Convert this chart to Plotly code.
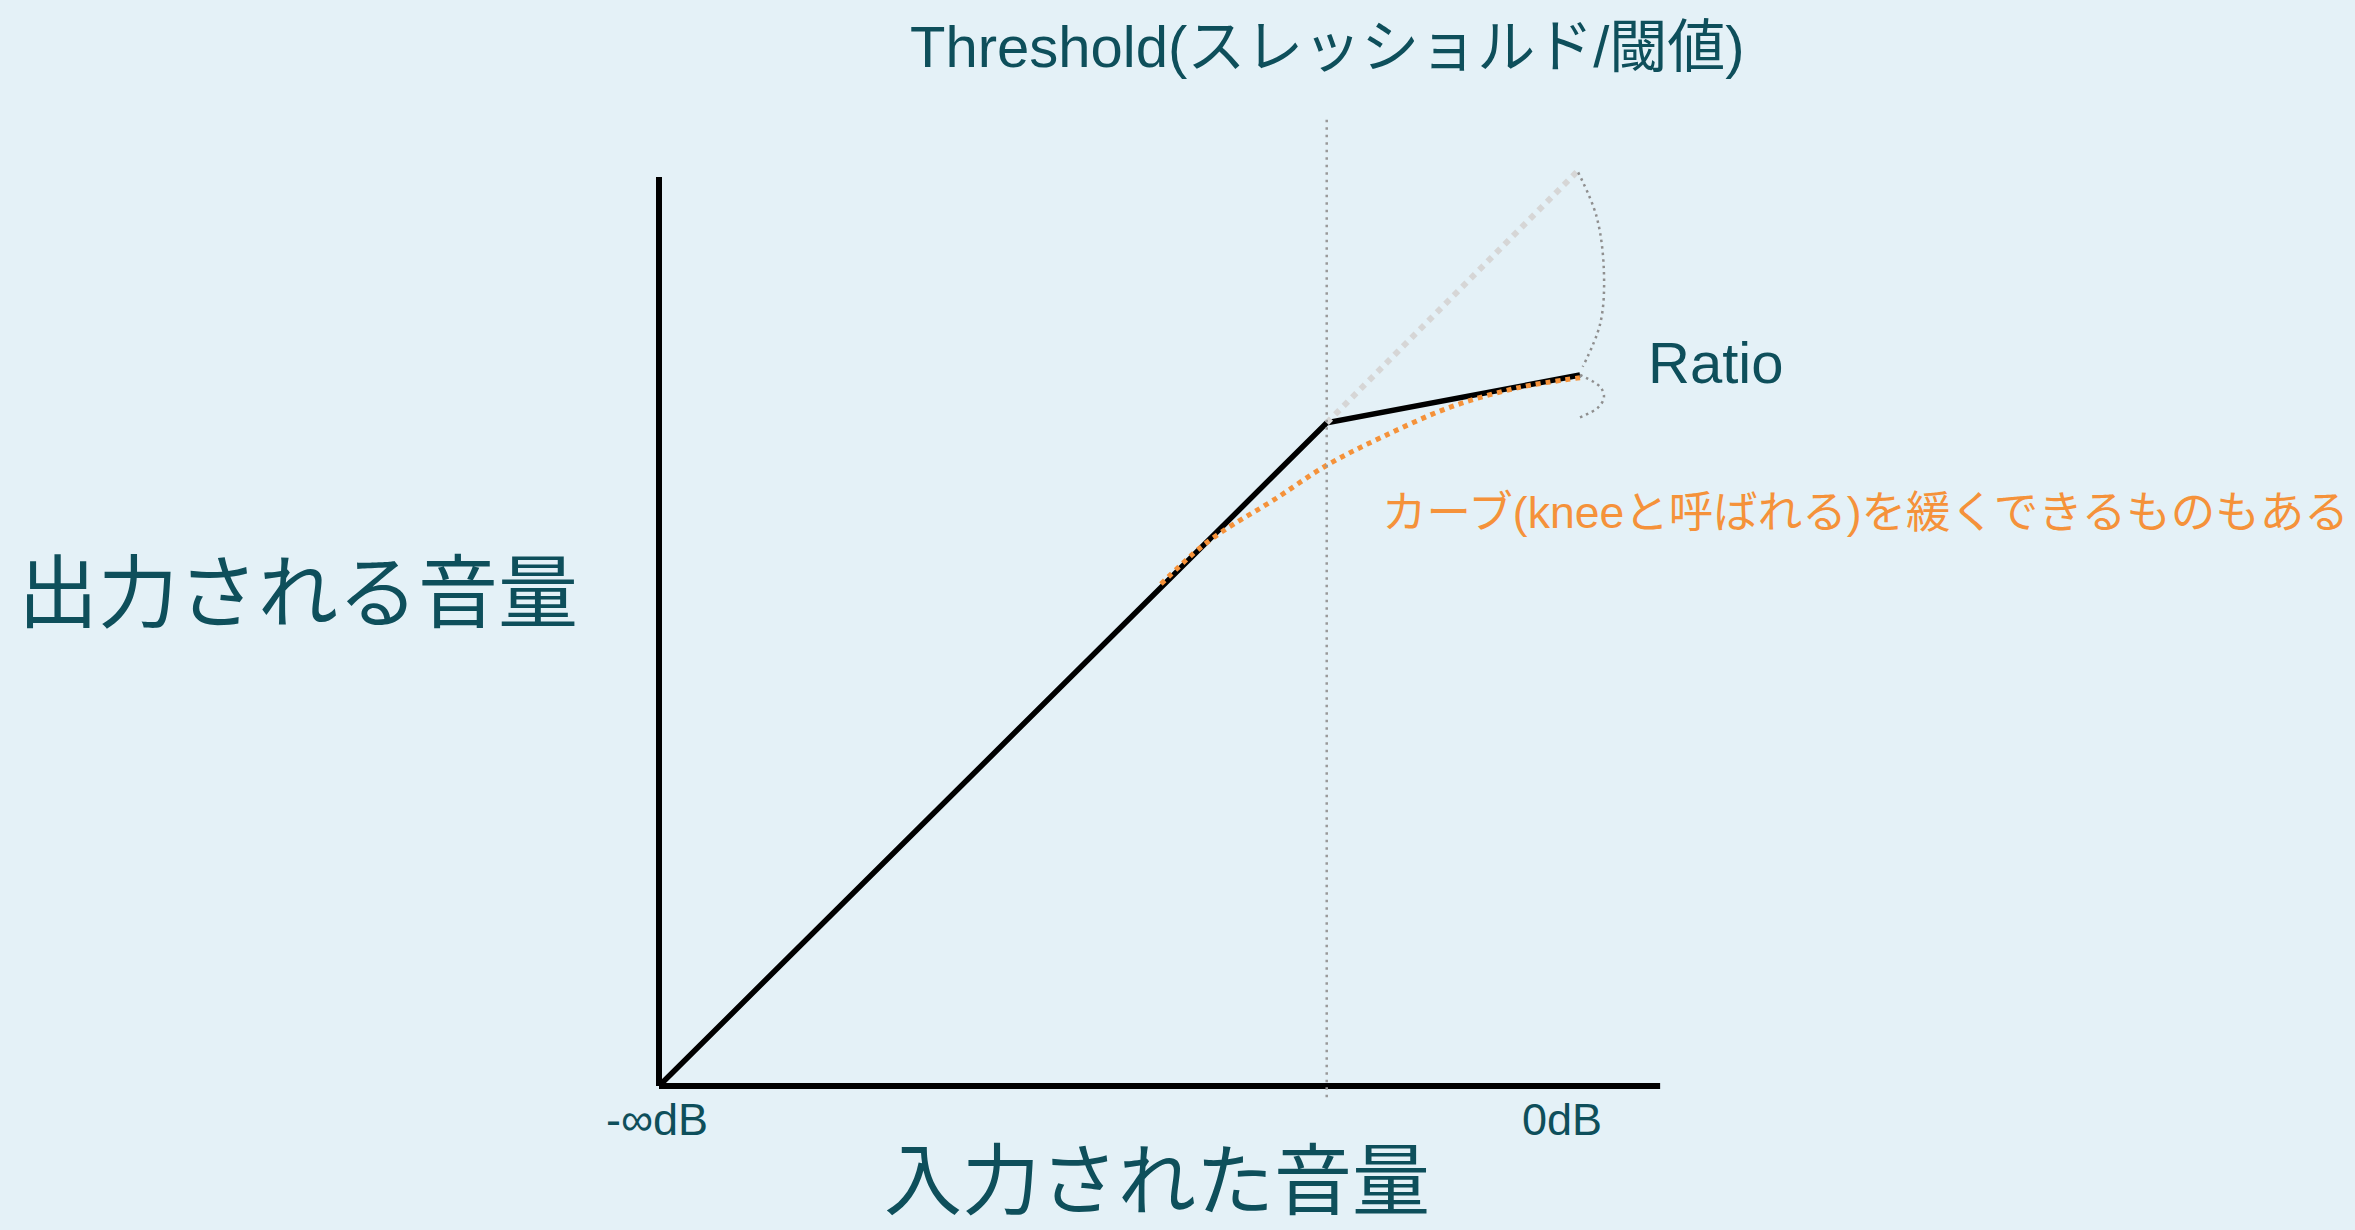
import plotly.graph_objects as go

# ---- data (arbitrary level units: input 0dB = 100, -inf dB = 0) ----
axis_x_len = 108.7          # extent of the input axis line
axis_y_len = 98.7           # extent of the output axis line
threshold = 72.5

# hard-knee transfer curve
curve_in = [0, 72.5, 100]
curve_out = [0, 72.0, 77.2]

# uncompressed continuation above threshold
ref_in = [72.5, 100]
ref_out = [72.0, 99.6]

# soft-knee curve
knee_in = [54.5, 58.0, 60.0, 62.4, 66.7, 72.5, 78.6, 85.9, 93.2, 100]
knee_out = [54.5, 57.8, 59.4, 61.0, 63.6, 67.4, 70.5, 73.7, 75.8, 76.9]

# ratio bracket
arc_x = [99.8, 101.8, 102.6, 102.2, 100.3]
arc_y = [99.2, 94.4, 88.3, 82.8, 78.1]
hook_x = [100.0, 102.2, 102.6, 102.0, 100.0]
hook_y = [77.2, 75.9, 74.8, 73.7, 72.6]

thr_y = [104.9, -1.4]

tick_labels = ["-∞dB", "0dB"]
x_title = "入力された音量"
y_title = "出力される音量"
thr_title = "Threshold(スレッショルド/閾値)"
ratio_label = "Ratio"
knee_label = "カーブ(kneeと呼ばれる)を緩くできるものもある"

# ---- styling ----
W, H = 2355, 1230
BG = "#E4F1F7"
TEAL = "#0E4F5B"
ORANGE = "#F5923A"
FONT = "Liberation Sans, Arial, Noto Sans CJK JP, sans-serif"

px_per_unit = 9.21
ox, oy = 659, 1086  # origin pixel (from top-left)
x0 = -ox / px_per_unit
x1 = x0 + W / px_per_unit
y0 = -(H - oy) / px_per_unit
y1 = y0 + H / px_per_unit

fig = go.Figure()

# axes
fig.add_trace(go.Scatter(x=[0, 0], y=[0, axis_y_len], mode="lines",
                         line=dict(color="black", width=6)))
fig.add_trace(go.Scatter(x=[0, axis_x_len], y=[0, 0], mode="lines",
                         line=dict(color="black", width=6)))
# hard knee curve
fig.add_trace(go.Scatter(x=curve_in, y=curve_out, mode="lines",
                         line=dict(color="black", width=5.5)))
# soft knee
fig.add_trace(go.Scatter(x=knee_in, y=knee_out, mode="lines",
                         line=dict(color=ORANGE, width=5, dash="dot", shape="spline")))
# uncompressed reference
fig.add_trace(go.Scatter(x=ref_in, y=ref_out, mode="lines",
                         line=dict(color="#D6D6D6", width=6, dash="dot")))
# threshold line
fig.add_trace(go.Scatter(x=[threshold, threshold], y=thr_y, mode="lines",
                         line=dict(color="#999999", width=2.5, dash="2.5px,5px")))
# ratio bracket
fig.add_trace(go.Scatter(x=arc_x, y=arc_y, mode="lines",
                         line=dict(color="#8F8F8F", width=2.5, dash="2.5px,4px", shape="spline")))
fig.add_trace(go.Scatter(x=hook_x, y=hook_y, mode="lines",
                         line=dict(color="#8F8F8F", width=2.5, dash="2.5px,4px", shape="spline")))


def ann(text, px, py, size, color, xanchor="center", yanchor="middle"):
    fig.add_annotation(text=text, x=px / W, y=1 - py / H, xref="paper", yref="paper",
                       xanchor=xanchor, yanchor=yanchor, showarrow=False,
                       font=dict(family=FONT, size=size, color=color))


ann(thr_title, 1327, 47, 58, TEAL)
ann(ratio_label, 1646, 362, 58, TEAL, xanchor="left")
ann(knee_label, 1380, 512, 44.5, ORANGE, xanchor="left")
ann(y_title, 16, 593, 80, TEAL, xanchor="left")
ann(x_title, 1157, 1182, 78, TEAL)
ann(tick_labels[0], 657, 1119, 45, TEAL)
ann(tick_labels[1], 1562, 1119, 45, TEAL)

fig.update_layout(
    width=W, height=H, autosize=False,
    margin=dict(l=0, r=0, t=0, b=0, pad=0),
    paper_bgcolor=BG, plot_bgcolor=BG,
    showlegend=False, hovermode=False,
    xaxis=dict(range=[x0, x1], visible=False, fixedrange=True),
    yaxis=dict(range=[y0, y1], visible=False, fixedrange=True),
)

fig.write_html("out.html", config={"displayModeBar": False},
               post_script="document.body.style.margin='0';document.body.style.overflow='hidden';")
